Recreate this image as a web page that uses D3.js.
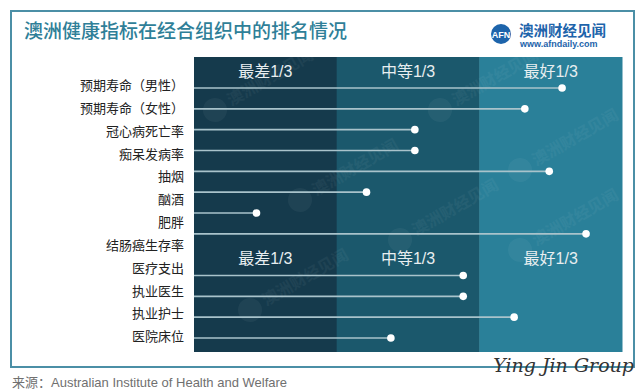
<!DOCTYPE html>
<html><head><meta charset="utf-8">
<script src="https://cdn.jsdelivr.net/npm/d3@7/dist/d3.min.js"></script>
<style>
body{margin:0;background:#fff;}
svg{display:block;font-family:"Noto Sans CJK SC","Noto Sans",sans-serif;}
</style></head>
<body>
<svg id="c" width="644" height="392"></svg>
<script>
const title = "澳洲健康指标在经合组织中的排名情况";
const bands = ["最差1/3", "中等1/3", "最好1/3"];
const bandColors = ["#153a4c", "#1b586c", "#2a8099"];
const groupA = ["预期寿命（男性）", "预期寿命（女性）", "冠心病死亡率", "痴呆发病率", "抽烟", "酗酒", "肥胖", "结肠癌生存率"];
const groupB = ["医疗支出", "执业医生", "执业护士", "医院床位"];
const valuesA = [86, 77.3, 51.6, 51.6, 83, 40.3, 14.6, 91.6];
const valuesB = [62.9, 62.9, 74.8, 46];
const source = "来源：Australian Institute of Health and Welfare";

const svg = d3.select("#c");
const plot = {x0: 194, x1: 622, y0: 57, y1: 352};

// outer frame
svg.append("rect").attr("x", 11).attr("y", 11).attr("width", 623).attr("height", 356)
  .attr("fill", "none").attr("stroke", "#4b8fa6").attr("stroke-width", 2);

// title
svg.append("text").attr("x", 24).attr("y", 38).text(title)
  .attr("font-size", 19).attr("font-weight", 500).attr("fill", "#2f7f98");

// logo
const logo = svg.append("g");
logo.append("circle").attr("cx", 501).attr("cy", 34).attr("r", 10).attr("fill", "#1d64ab");
logo.append("text").attr("x", 501).attr("y", 37.5).attr("text-anchor", "middle")
  .attr("font-size", 9).attr("font-weight", 700).attr("fill", "#fff")
  .attr("font-family", "Liberation Sans, Arial").text("AFN");
logo.append("text").attr("x", 519).attr("y", 36).attr("font-size", 14.5).attr("font-weight", 700)
  .attr("fill", "#1d64ab").text("澳洲财经见闻");
logo.append("text").attr("x", 520).attr("y", 47).attr("font-size", 9).attr("font-weight", 700)
  .attr("font-family", "Liberation Sans, Arial")
  .attr("fill", "#1d64ab").text("www.afndaily.com");

// scales
const x = d3.scaleLinear().domain([0, 100]).range([plot.x0, plot.x1]);
const slots = [...groupA, "__hdr", ...groupB];
const yLine = d3.scalePoint().domain(slots).range([88, 338]);
const step = yLine.step();
const allLabels = [...groupA, ...groupB];
const yLabel = d3.scalePoint().domain(allLabels).range([85.7, 336.7]);

// bands
const bx = d3.scaleBand().domain(bands).range([plot.x0, plot.x1]);
svg.selectAll("rect.band").data(bands).join("rect").attr("class", "band")
  .attr("x", d => bx(d)).attr("y", plot.y0).attr("width", bx.bandwidth() + 0.5)
  .attr("height", plot.y1 - plot.y0).attr("fill", (d, i) => bandColors[i]);

// watermarks (clipped to plot)
svg.append("clipPath").attr("id", "pc").append("rect")
  .attr("x", plot.x0).attr("y", plot.y0).attr("width", plot.x1 - plot.x0).attr("height", plot.y1 - plot.y0);
const wmG = svg.append("g").attr("clip-path", "url(#pc)");
const wm = [[215,110],[300,200],[440,110],[520,170],[250,310],[400,240],[520,250]];
wm.forEach(([cx, cy]) => {
  const g = wmG.append("g").attr("transform", `translate(${cx},${cy}) rotate(-30)`).attr("opacity", 0.045);
  g.append("circle").attr("r", 12).attr("fill", "#fff");
  g.append("text").attr("x", 16).attr("y", 5).attr("font-size", 16).attr("font-weight", 700)
    .attr("fill", "#fff").text("澳洲财经见闻");
});

// header labels (top and middle)
const headerYs = [yLine(groupA[0]) - step, yLine("__hdr")];
headerYs.forEach(hy => {
  svg.selectAll(null).data(bands).join("text")
    .attr("x", d => bx(d) + bx.bandwidth() / 2).attr("y", hy + 9.5)
    .attr("text-anchor", "middle").attr("font-size", 16).attr("fill", "#e8eef0")
    .attr("font-family", "Liberation Sans, 'Noto Sans CJK SC', sans-serif")
    .text(d => d);
});

// lollipops
const rows = [...groupA.map((k, i) => ({k, v: valuesA[i]})), ...groupB.map((k, i) => ({k, v: valuesB[i]}))];
svg.selectAll("line.row").data(rows).join("line").attr("class", "row")
  .attr("x1", plot.x0).attr("x2", d => x(d.v))
  .attr("y1", d => yLine(d.k)).attr("y2", d => yLine(d.k))
  .attr("stroke", "#a9c3cb").attr("stroke-width", 1.6);
svg.selectAll("circle.dot").data(rows).join("circle").attr("class", "dot")
  .attr("cx", d => x(d.v)).attr("cy", d => yLine(d.k)).attr("r", 3.8).attr("fill", "#fff");

// row labels
svg.selectAll("text.lbl").data(allLabels).join("text").attr("class", "lbl")
  .attr("x", 184).attr("y", d => yLabel(d) + 4.5).attr("text-anchor", "end")
  .attr("font-size", 13).attr("fill", "#222").text(d => d);

// source
svg.append("text").attr("x", 12).attr("y", 387).attr("font-size", 13)
  .attr("font-family", "Liberation Sans, 'Noto Sans CJK SC', sans-serif")
  .attr("fill", "#707070").text(source);

// signature
svg.append("text").attr("x", 634).attr("y", 372).attr("text-anchor", "end")
  .attr("font-family", "DejaVu Serif, Liberation Serif, serif").attr("font-style", "italic")
  .attr("font-size", 19).attr("fill", "#333").text("Ying Jin Group");
</script>
</body></html>
